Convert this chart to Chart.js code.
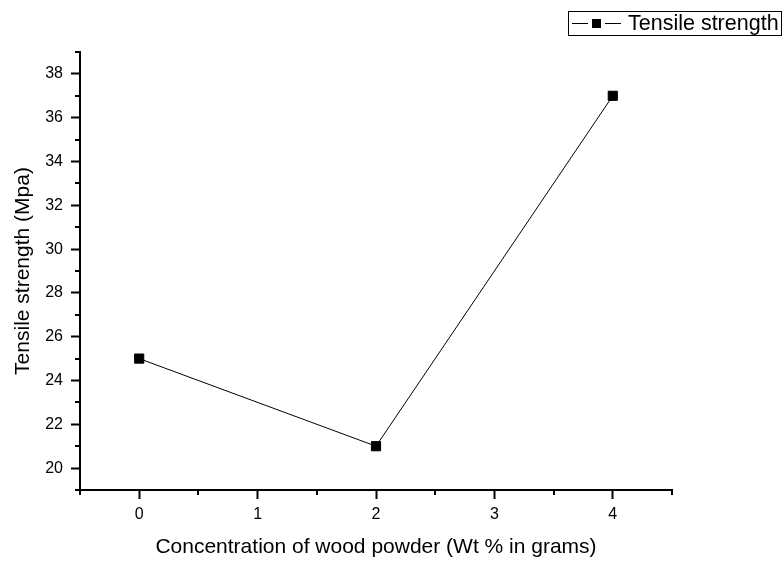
<!DOCTYPE html>
<html>
<head>
<meta charset="utf-8">
<script src="https://cdn.jsdelivr.net/npm/chart.js@4/dist/chart.umd.min.js"></script>
<style>
  html, body { margin: 0; padding: 0; background: #fff; }
  #wrap { width: 784px; height: 562px; position: relative; }
</style>
</head>
<body>
<div id="wrap"><canvas id="c" width="784" height="562"></canvas></div>
<script>
// ---- data ----
const concentrations = [0, 2, 4];
const tensileStrength = [25, 21, 37];
const seriesName = 'Tensile strength';
const xTickLabels = ['0', '1', '2', '3', '4'];
const yTickLabels = ['20', '22', '24', '26', '28', '30', '32', '34', '36', '38'];
const xTitle = 'Concentration of wood powder (Wt % in grams)';
const yTitle = 'Tensile strength (Mpa)';

const FONT = "'Liberation Sans', Arial, sans-serif";

const points = concentrations.map((x, i) => ({ x: x, y: tensileStrength[i] }));

const minorTicks = {
  id: 'minorTicks',
  afterDraw(chart) {
    const ctx = chart.ctx;
    const xs = chart.scales.x, ys = chart.scales.y;
    ctx.save();
    ctx.strokeStyle = '#000';
    ctx.lineWidth = 2;
    ctx.beginPath();
    for (let v = -0.5; v <= 4.5001; v += 1) {
      const px = Math.round(xs.getPixelForValue(v));
      ctx.moveTo(px, xs.top);
      ctx.lineTo(px, xs.top + 5);
    }
    for (let v = 19; v <= 39.001; v += 2) {
      const py = Math.round(ys.getPixelForValue(v));
      ctx.moveTo(ys.right, py);
      ctx.lineTo(ys.right - 5, py);
    }
    ctx.stroke();
    ctx.restore();
  }
};

const boxedLegend = {
  id: 'boxedLegend',
  afterDraw(chart) {
    const ctx = chart.ctx;
    ctx.save();
    ctx.strokeStyle = '#000';
    ctx.lineWidth = 1;
    ctx.strokeRect(568.5, 11.5, 213, 24);
    ctx.beginPath();
    ctx.moveTo(572, 23.5);
    ctx.lineTo(588, 23.5);
    ctx.moveTo(605, 23.5);
    ctx.lineTo(621, 23.5);
    ctx.stroke();
    ctx.fillStyle = '#000';
    ctx.fillRect(592, 19, 9, 9);
    ctx.font = '21.5px ' + FONT;
    ctx.textBaseline = 'middle';
    ctx.fillText(seriesName, 628, 24);
    ctx.restore();
  }
};

new Chart(document.getElementById('c'), {
  type: 'line',
  data: {
    datasets: [{
      label: seriesName,
      data: points,
      borderColor: '#000',
      backgroundColor: '#000',
      borderWidth: 1,
      pointStyle: 'rect',
      pointRadius: 6.5,
      pointBorderWidth: 1,
      pointBackgroundColor: '#000',
      pointBorderColor: '#000',
      tension: 0
    }]
  },
  options: {
    responsive: false,
    animation: false,
    layout: { padding: { top: 52, right: 112, left: 0, bottom: 0 } },
    plugins: { legend: { display: false }, tooltip: { enabled: false } },
    scales: {
      x: {
        type: 'linear',
        min: -0.5, max: 4.5,
        afterBuildTicks(s) { s.ticks = xTickLabels.map(t => ({ value: Number(t) })); },
        afterFit(s) { s.height = 72; },
        ticks: {
          color: '#000', font: { family: FONT, size: 16 }, padding: 6,
          maxRotation: 0, autoSkip: false,
          callback: (v) => xTickLabels.includes(String(v)) ? String(v) : ''
        },
        grid: { drawOnChartArea: false, drawTicks: true, tickLength: 9, tickWidth: 2, tickColor: '#000' },
        border: { display: true, color: '#000', width: 2 },
        title: { display: true, text: xTitle, color: '#000', font: { family: FONT, size: 21 }, padding: { top: 4, bottom: 2 } }
      },
      y: {
        type: 'linear',
        min: 19, max: 39,
        afterBuildTicks(s) { s.ticks = yTickLabels.map(t => ({ value: Number(t) })); },
        afterFit(s) { s.width = 80; },
        ticks: {
          color: '#000', font: { family: FONT, size: 16 }, padding: 8,
          autoSkip: false,
          callback: (v) => yTickLabels.includes(String(v)) ? String(v) : ''
        },
        grid: { drawOnChartArea: false, drawTicks: true, tickLength: 9, tickWidth: 2, tickColor: '#000' },
        border: { display: true, color: '#000', width: 2 },
        title: { display: true, text: yTitle, color: '#000', font: { family: FONT, size: 21 }, padding: { top: 11, bottom: 0 } }
      }
    }
  },
  plugins: [minorTicks, boxedLegend]
});
</script>
</body>
</html>
